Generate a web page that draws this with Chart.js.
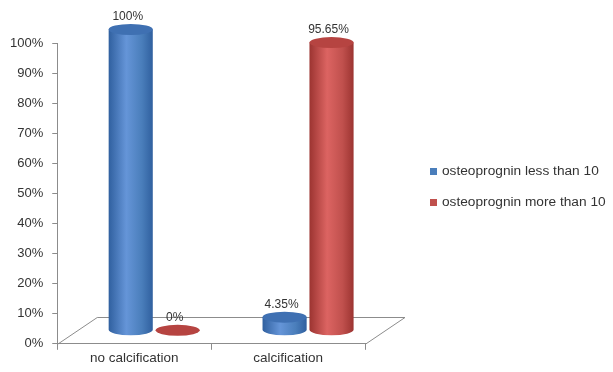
<!DOCTYPE html>
<html>
<head>
<meta charset="utf-8">
<script src="https://cdn.jsdelivr.net/npm/chart.js@4.4.1/dist/chart.umd.min.js"></script>
<style>
  html, body { margin: 0; padding: 0; background: #ffffff; }
  #wrap { width: 613px; height: 372px; }
</style>
</head>
<body>
<div id="wrap"><canvas id="c"></canvas></div>
<script>
// Categories and series (percentages)
const categories = ['no calcification', 'calcification'];
const seriesNames = ['osteoprognin less than 10', 'osteoprognin more than 10'];
const lessThan10 = [100, 4.35];
const moreThan10 = [0, 95.65];
const valueLabels = [['100%', '4.35%'], ['0%', '95.65%']];
const yTickValues = [0, 10, 20, 30, 40, 50, 60, 70, 80, 90, 100];

// Colours for each series
const palette = [
  { base: '#4a7ebb', edge: '#30609f', light: '#6595d8', top: '#3f70b2' },
  { base: '#c0504d', edge: '#9c3431', light: '#dc6462', top: '#b64441' }
];

const DEPTH_X = 40;   // floor depth offset
const DEPTH_Y = -27;
const RY = 5.5;       // ellipse half-height of cylinder caps
const FONT = '"Liberation Sans", Arial, sans-serif';

const cylinders = {
  id: 'cylinders',
  beforeDatasetsDraw(chart) {
    // 3D floor
    const ctx = chart.ctx;
    const xs = chart.scales.x, ys = chart.scales.y;
    const y0 = Math.round(ys.getPixelForValue(0)) + 0.5;
    const l = xs.left, r = xs.right;
    ctx.save();
    ctx.strokeStyle = '#8c8c8c';
    ctx.lineWidth = 1;
    ctx.beginPath();
    ctx.moveTo(l, y0);
    ctx.lineTo(l + DEPTH_X, y0 + DEPTH_Y);
    ctx.lineTo(r + DEPTH_X, y0 + DEPTH_Y);
    ctx.lineTo(r, y0);
    ctx.stroke();
    ctx.restore();
  },
  beforeDatasetDraw() {
    return false; // bars are rendered as cylinders below
  },
  afterDatasetsDraw(chart) {
    const ctx = chart.ctx;
    chart.data.datasets.forEach((ds, di) => {
      const meta = chart.getDatasetMeta(di);
      const col = palette[di];
      meta.data.forEach((bar, i) => {
        const p = bar.getProps(['x', 'y', 'base', 'width'], true);
        const cx = p.x + DEPTH_X / 2;
        const top = p.y + DEPTH_Y / 2;
        const bottom = p.base + DEPTH_Y / 2;
        const rx = p.width / 2;
        ctx.save();
        const g = ctx.createLinearGradient(cx - rx, 0, cx + rx, 0);
        g.addColorStop(0, col.edge);
        g.addColorStop(0.4, col.light);
        g.addColorStop(0.75, col.base);
        g.addColorStop(1, col.edge);
        if (bottom - top > 0.5) {
          ctx.fillStyle = g;
          ctx.beginPath();
          ctx.moveTo(cx - rx, top);
          ctx.lineTo(cx - rx, bottom);
          ctx.ellipse(cx, bottom, rx, RY, 0, Math.PI, 0, true);
          ctx.lineTo(cx + rx, top);
          ctx.closePath();
          ctx.fill();
        }
        // top cap
        ctx.fillStyle = col.top;
        ctx.beginPath();
        ctx.ellipse(cx, top, rx, RY, 0, 0, Math.PI * 2);
        ctx.fill();
        // value label
        ctx.fillStyle = '#333333';
        ctx.font = '12px ' + FONT;
        ctx.textAlign = 'center';
        ctx.textBaseline = 'bottom';
        ctx.fillText(valueLabels[di][i], cx - 3, top - RY - 1);
        ctx.restore();
      });
    });
  }
};

// Series key at the right of the plot
const sideLegend = {
  id: 'sideLegend',
  afterDraw(chart) {
    const ctx = chart.ctx;
    const x0 = 430, y0 = 171.5, step = 31;
    ctx.save();
    ctx.font = '13.7px ' + FONT;
    ctx.textBaseline = 'middle';
    ctx.textAlign = 'left';
    chart.data.datasets.forEach((ds, i) => {
      const y = y0 + i * step;
      ctx.fillStyle = ds.backgroundColor;
      ctx.fillRect(x0, y - 3.5, 7, 7);
      ctx.fillStyle = '#333333';
      ctx.fillText(ds.label, x0 + 12, y);
    });
    ctx.restore();
  }
};

new Chart(document.getElementById('c'), {
  type: 'bar',
  data: {
    labels: categories,
    datasets: [
      { label: seriesNames[0], data: lessThan10, backgroundColor: palette[0].base },
      { label: seriesNames[1], data: moreThan10, backgroundColor: palette[1].base }
    ]
  },
  options: {
    responsive: true,
    maintainAspectRatio: false,
    animation: false,
    categoryPercentage: 0.61,
    barPercentage: 0.94,
    layout: { padding: { left: 1, top: 43, right: 248, bottom: 6 } },
    plugins: {
      tooltip: { enabled: false },
      legend: { display: false }
    },
    scales: {
      x: {
        grid: { display: true, drawOnChartArea: false, tickLength: 6, color: '#8c8c8c' },
        border: { display: true, color: '#8c8c8c' },
        ticks: { color: '#333333', padding: 0, font: { family: FONT, size: 13.5 } }
      },
      y: {
        min: 0,
        max: 100,
        afterBuildTicks(s) { s.ticks = yTickValues.map(v => ({ value: v })); },
        grid: { display: true, drawOnChartArea: false, tickLength: 5, color: '#8c8c8c' },
        border: { display: true, color: '#8c8c8c' },
        ticks: { color: '#333333', padding: 9, font: { family: FONT, size: 13 }, callback: v => v + '%' }
      }
    }
  },
  plugins: [cylinders, sideLegend]
});
</script>
</body>
</html>
